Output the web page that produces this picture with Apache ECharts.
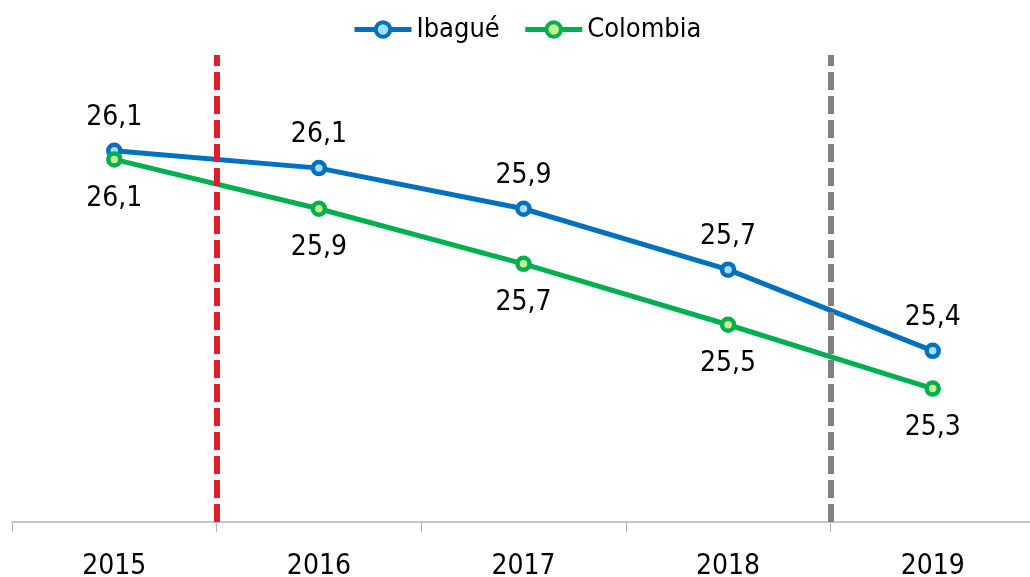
<!DOCTYPE html>
<html>
<head>
<meta charset="utf-8">
<script src="https://cdn.jsdelivr.net/npm/echarts@6/dist/echarts.min.js"></script>
<style>
  html, body { margin: 0; padding: 0; background: #fff; }
  #chart { width: 1030px; height: 577px; }
</style>
</head>
<body>
<div id="chart"></div>
<script>
// datos
const years = ['2015', '2016', '2017', '2018', '2019']
const ibague = [26.12, 26.06, 25.92, 25.71, 25.43]
const colombia = [26.09, 25.92, 25.73, 25.52, 25.30]
// posiciones de las líneas divisorias (entre categorías)
const dividers = [1, 4]
const dividerColors = ['#E31B2E', '#808080']

const font = "'Liberation Sans Narrow', 'DejaVu Sans Condensed', sans-serif"
const fmt = p => p.value.toFixed(1).replace('.', ',')

const chart = echarts.init(document.getElementById('chart'))
chart.setOption({
  animation: false,
  textStyle: { fontFamily: font },
  legend: {
    top: 11,
    left: 347,
    itemWidth: 57,
    itemHeight: 18,
    itemGap: 23,
    lineStyle: { width: 5 },
    itemStyle: { borderWidth: 4 },
    textStyle: { fontSize: 27, color: '#000', fontFamily: font },
    data: ['Ibagué', 'Colombia']
  },
  grid: { left: 12, right: -5, top: 55, bottom: 55, outerBoundsMode: 'none' },
  xAxis: [
    {
      type: 'category',
      data: years,
      axisLine: { lineStyle: { color: '#b4b4b4', width: 1.5 } },
      axisTick: { show: true, length: 10, lineStyle: { color: '#b4b4b4' } },
      axisLabel: { fontSize: 28, color: '#000', margin: 31, fontFamily: font }
    },
    { type: 'value', min: 0, max: 5, show: false }
  ],
  yAxis: { type: 'value', min: 24.84, max: 26.45, show: false, splitLine: { show: false } },
  series: [
    {
      name: 'Ibagué',
      type: 'line',
      data: ibague,
      symbol: 'circle',
      symbolSize: 12,
      lineStyle: { width: 5, color: '#0070C0' },
      itemStyle: { color: '#A8DCF5', borderColor: '#0070C0', borderWidth: 4.5 },
      label: { show: true, position: 'top', distance: 11, formatter: fmt, fontSize: 28, color: '#000', fontFamily: font }
    },
    {
      name: 'Colombia',
      type: 'line',
      data: colombia,
      symbol: 'circle',
      symbolSize: 12,
      lineStyle: { width: 5, color: '#00B050' },
      itemStyle: { color: '#C8F08C', borderColor: '#00B050', borderWidth: 4.5 },
      label: { show: true, position: 'bottom', distance: 17, formatter: fmt, fontSize: 28, color: '#000', fontFamily: font }
    },
    {
      type: 'line',
      xAxisIndex: 1,
      data: [],
      z: 5,
      markLine: {
        silent: true,
        symbol: ['none', 'none'],
        label: { show: false },
        data: dividers.map((x, i) => ({
          xAxis: x,
          lineStyle: { color: dividerColors[i], type: [18, 6], width: 6 }
        }))
      }
    }
  ]
})
</script>
</body>
</html>
